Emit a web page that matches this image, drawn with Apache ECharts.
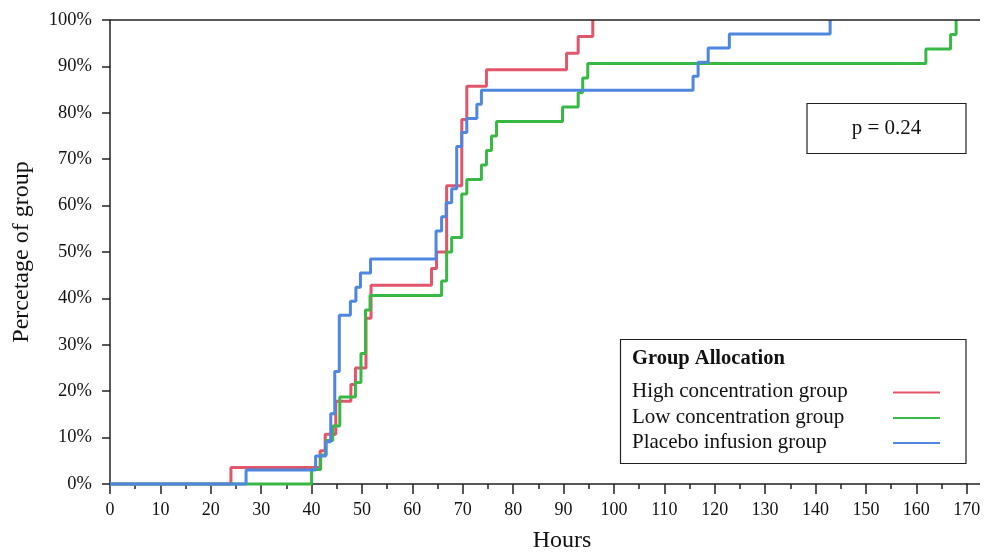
<!DOCTYPE html>
<html>
<head>
<meta charset="utf-8">
<script src="https://cdn.jsdelivr.net/npm/echarts@6/dist/echarts.min.js"></script>
<style>html,body{margin:0;padding:0;background:#fff;}#c{width:992px;height:552px;}</style>
</head>
<body>
<div id="c"></div>
<script>
// Cumulative percentage of group (step points: [hours, percent])
const seriesNames = ['High concentration group', 'Low concentration group', 'Placebo infusion group'];
const highHours = [0, 24, 41.7, 42.7, 44.8, 47.8, 48.7, 50.8, 51.8, 63.8, 64.8, 66.8, 69.8, 70.8, 74.7, 90.6, 92.9, 95.8];
const highPct   = [0, 3.57, 7.14, 10.71, 17.86, 21.43, 25, 35.71, 42.86, 46.43, 50, 64.29, 78.57, 85.71, 89.29, 92.86, 96.43, 100];
const lowHours = [0, 40, 41.8, 42.9, 44.2, 45.6, 48.7, 49.8, 50.7, 51.6, 65.8, 66.8, 67.8, 69.8, 70.8, 73.7, 74.7, 75.7, 76.7, 89.8, 92.9, 93.8, 94.8, 161.9, 166.8, 167.9];
const lowPct   = [0, 3.125, 6.25, 9.375, 12.5, 18.75, 21.875, 28.125, 37.5, 40.625, 43.75, 50, 53.125, 62.5, 65.625, 68.75, 71.875, 75, 78.125, 81.25, 84.375, 87.5, 90.625, 93.75, 96.875, 100];
const placeboHours = [0, 27, 40.8, 42.8, 43.8, 44.6, 45.5, 47.7, 48.8, 49.7, 51.7, 64.7, 65.8, 66.7, 67.8, 68.8, 69.8, 70.8, 72.8, 73.7, 115.7, 116.7, 118.7, 122.9, 142.9];
const placeboPct   = [0, 3.03, 6.06, 9.09, 15.15, 24.24, 36.36, 39.39, 42.42, 45.45, 48.48, 54.55, 57.58, 60.61, 63.64, 72.73, 75.76, 78.79, 81.82, 84.85, 87.88, 90.91, 93.94, 96.97, 100];
const pText = 'p = 0.24';
const legendTitle = 'Group Allocation';

const colors = ['#E2566B', '#37B944', '#4E86E0'];
const font = '"Liberation Serif", "Times New Roman", serif';
function pairs(h, p) { return h.map((v, i) => [v, p[i]]); }
const dataSets = [pairs(highHours, highPct), pairs(lowHours, lowPct), pairs(placeboHours, placeboPct)];

const chart = echarts.init(document.getElementById('c'), null, {renderer: 'canvas'});
const axisCol = '#222';

const legendGraphics = [
  {type: 'rect', shape: {x: 620.5, y: 339.5, width: 345.5, height: 124}, style: {fill: 'rgba(255,255,255,0)', stroke: '#222', lineWidth: 1.2}, z: 20},
  {type: 'text', x: 632, y: 359, style: {text: legendTitle, fontFamily: font, fontSize: 20.5, fontWeight: 'bold', fill: '#111', verticalAlign: 'middle'}, z: 20}
];
const rowY = [391.5, 417, 442];
seriesNames.forEach((n, i) => {
  legendGraphics.push({type: 'text', x: 632, y: rowY[i], style: {text: n, fontFamily: font, fontSize: 21, fill: '#111', verticalAlign: 'middle'}, z: 20});
  legendGraphics.push({type: 'line', shape: {x1: 893, y1: rowY[i] + 1, x2: 940, y2: rowY[i] + 1}, style: {stroke: colors[i], lineWidth: 2}, z: 20});
});

chart.setOption({
  animation: false,
  backgroundColor: '#fff',
  grid: {left: 110, right: 25.3, top: 20, bottom: 68, containLabel: false},
  xAxis: {
    type: 'value', min: 0, max: 170, interval: 10,
    axisLine: {show: true, lineStyle: {color: axisCol, width: 1.5}},
    axisTick: {show: true, length: 10, lineStyle: {color: axisCol, width: 1.5}},
    minorTick: {show: true, splitNumber: 2, length: 5, lineStyle: {color: axisCol, width: 1.5}},
    splitLine: {show: false},
    axisLabel: {color: '#111', fontFamily: font, fontSize: 18, margin: 17}
  },
  yAxis: {
    type: 'value', min: 0, max: 100, interval: 10,
    axisLine: {show: true, onZero: false, lineStyle: {color: axisCol, width: 1.5}},
    axisTick: {show: true, length: 8, lineStyle: {color: axisCol, width: 1.5}},
    splitLine: {show: false},
    axisLabel: {color: '#111', fontFamily: font, fontSize: 18.5, margin: 18, formatter: '{value}%'},
    name: 'Percetage of group', nameLocation: 'middle', nameGap: 76, nameRotate: 90,
    nameTextStyle: {color: '#111', fontFamily: font, fontSize: 24}
  },
  series: dataSets.map((d, i) => ({
    name: seriesNames[i], type: 'line', step: 'end', data: d,
    showSymbol: false, symbol: 'none', clip: false,
    lineStyle: {color: colors[i], width: 3}, itemStyle: {color: colors[i]},
    z: 2 + i
  })),
  graphic: [
    {type: 'line', shape: {x1: 110, y1: 20, x2: 980, y2: 20}, style: {stroke: axisCol, lineWidth: 1.5}, z: 10},
    {type: 'line', shape: {x1: 966, y1: 484, x2: 980, y2: 484}, style: {stroke: axisCol, lineWidth: 1.5}, z: 10},
    {type: 'text', x: 562, y: 541, style: {text: 'Hours', fontFamily: font, fontSize: 24, fill: '#111', align: 'center', verticalAlign: 'middle'}},
    {type: 'rect', shape: {x: 807, y: 103.5, width: 159, height: 50}, style: {fill: '#fff', stroke: '#222', lineWidth: 1.2}},
    {type: 'text', x: 886.5, y: 128.5, style: {text: pText, fontFamily: font, fontSize: 21, fill: '#111', align: 'center', verticalAlign: 'middle'}}
  ].concat(legendGraphics)
});
</script>
</body>
</html>
